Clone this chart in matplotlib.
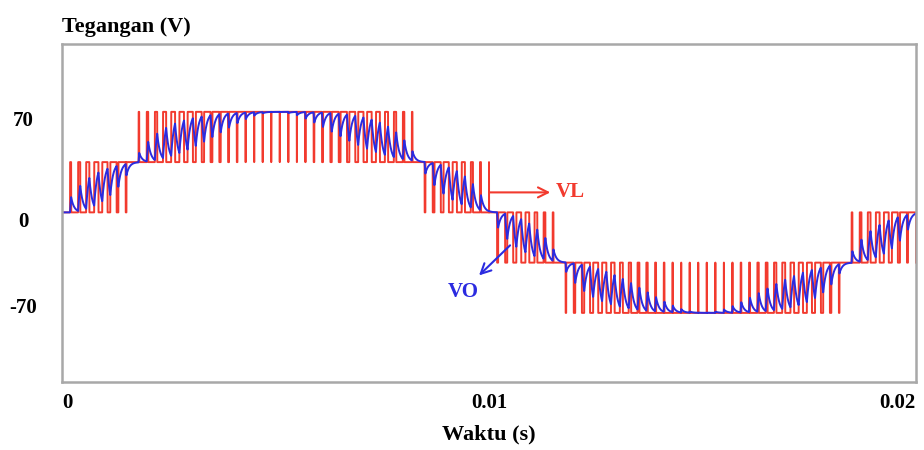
import numpy as np
import matplotlib
matplotlib.use('Agg')
from matplotlib import pyplot as plt

# values
t_end = 0.02            # one 50 Hz period
f_ref = 50.0            # reference sine frequency
f_carrier = 5000.0      # about 100 red pulses per period
v_step = 40.0           # height of one inverter level
v_peak = 80.0           # reference amplitude (two levels)
tau = 70e-6             # time constant of the blue output

y_ticks = [70, 0, -70]
y_labels = ['70', '0', '-70']
y_label_shift = [3, -10, -8]     # px, labels sit a little off their values
x_ticks = [0, 0.01, 0.02]
x_labels = ['0', '0.01', '0.02']

red = '#f23a2e'
blue = '#2b2be0'
serif = ['Liberation Serif', 'DejaVu Serif']

# level shifted carrier PWM (VL) and its filtered output (VO)
t = np.linspace(0, t_end, 80001)
ref = v_peak * np.sin(2 * np.pi * f_ref * t)
phase = (t * f_carrier) % 1.0
tri = 1 - np.abs(2 * phase - 1)
mag = np.abs(ref) / v_step
n = np.floor(mag)
frac = mag - n
vl = np.sign(ref) * v_step * (n + (frac > tri))

dt = t[1] - t[0]
vo = np.zeros_like(vl)
for i in range(1, len(t)):
    vo[i] = vo[i - 1] + dt / tau * (vl[i - 1] - vo[i - 1])

fig = plt.figure(figsize=(9.24, 4.5), dpi=100)
ax = fig.add_axes([62 / 924, 1 - 382 / 450, 854 / 924, 338 / 450])

ax.plot(t, vl, color=red, lw=1.4)
ax.plot(t, vo, color=blue, lw=1.4)

ax.set_xlim(0, t_end)
ax.set_ylim(-135, 134)

for s in ax.spines.values():
    s.set_color('#a8a8a8')
    s.set_linewidth(1.8)

# y labels: centred left of the frame
ax.set_yticks([])
for v, lab, dy in zip(y_ticks, y_labels, y_label_shift):
    ax.annotate(lab, xy=(0, v), xycoords=ax.get_yaxis_transform(),
                xytext=(-38.5, dy), textcoords='offset pixels',
                ha='center', va='center', fontfamily=serif, fontweight='bold', fontsize=15)

ax.set_xticks(x_ticks)
ax.set_xticklabels(x_labels, fontfamily=serif, fontweight='bold', fontsize=15)
ax.tick_params(axis='x', length=0, pad=8)
xl = ax.get_xticklabels()
xl[0].set_horizontalalignment('left')
xl[-1].set_horizontalalignment('right')

ax.set_xlabel('Waktu (s)', fontfamily=serif, fontweight='bold', fontsize=16)
ax.xaxis.label.set_verticalalignment('center')
ax.xaxis.set_label_coords(0.5, (382 - 434) / 338)
fig.text(62 / 924, 1 - 27 / 450, 'Tegangan (V)', fontfamily=serif, fontweight='bold',
         fontsize=16, ha='left', va='center')

# annotations
ax.annotate('', xy=(0.0115, 15.9), xytext=(0.00995, 15.9),
            arrowprops=dict(arrowstyle='->', color=red, lw=1.5, mutation_scale=18))
ax.text(0.01157, 15.9, 'VL', color=red, fontfamily=serif, fontweight='bold',
        fontsize=15, ha='left', va='center')
ax.annotate('', xy=(0.00972, -51.7), xytext=(0.01054, -24.7),
            arrowprops=dict(arrowstyle='->', color=blue, lw=1.5, mutation_scale=18))
ax.text(0.00939, -63.6, 'VO', color=blue, fontfamily=serif, fontweight='bold',
        fontsize=15, ha='center', va='center')

fig.savefig('out.png', dpi=100)
